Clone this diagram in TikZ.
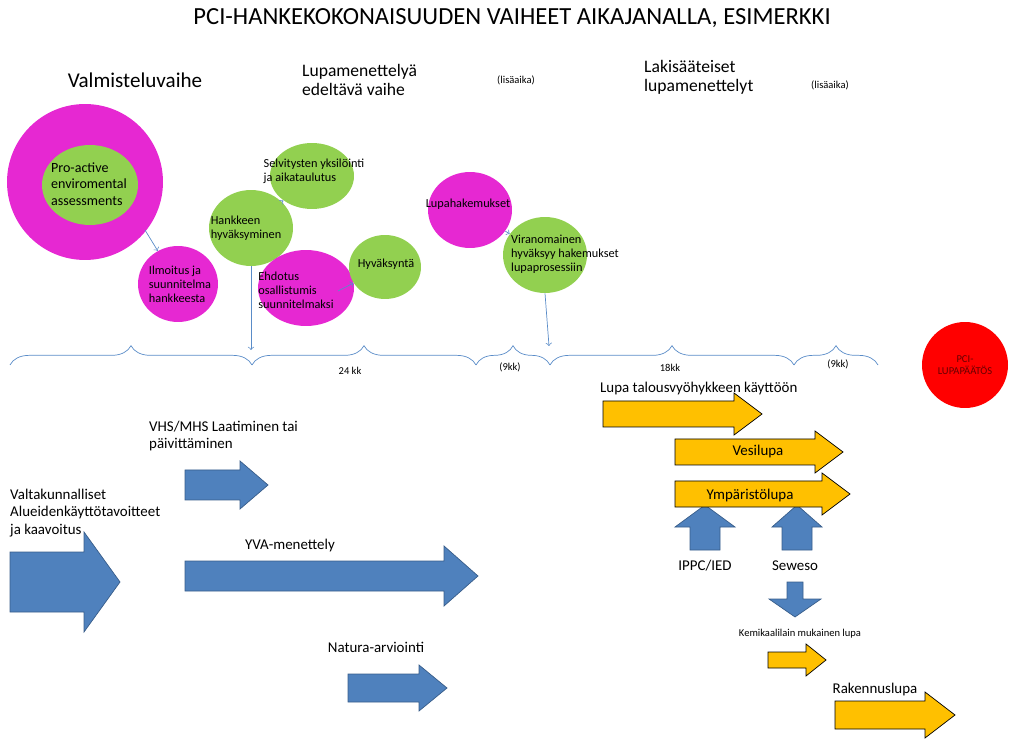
\documentclass[tikz,border=0pt]{standalone}
\usepackage{fontspec}
\setmainfont{Carlito}
\usetikzlibrary{positioning, decorations.pathreplacing, shapes.geometric}
\definecolor{pcimag}{RGB}{230,40,210}
\definecolor{pcigreen}{RGB}{146,208,80}
\definecolor{pciblue}{RGB}{79,129,189}
\definecolor{pciblueline}{RGB}{56,93,138}
\definecolor{pciyellow}{RGB}{255,192,0}
\definecolor{pciline}{RGB}{90,140,200}
% horizontal block arrow: x1, x2, y, body half, head half, head length, style
\newcommand{\fatarrow}[7]{\draw[#7] (#1,#3-#4) -- (#2-#6,#3-#4) -- (#2-#6,#3-#5) -- (#2,#3) -- (#2-#6,#3+#5) -- (#2-#6,#3+#4) -- (#1,#3+#4) -- cycle;}
% vertical block arrow: x, y1, y2, body half, head half, head length (negative up), style
\newcommand{\vfatarrow}[7]{\draw[#7] (#1-#4,#2) -- (#1-#4,#3-#6) -- (#1-#5,#3-#6) -- (#1,#3) -- (#1+#5,#3-#6) -- (#1+#4,#3-#6) -- (#1+#4,#2) -- cycle;}
\begin{document}
\begin{tikzpicture}[x=0.02cm, y=-0.02cm,
  bubble/.style={ellipse, inner sep=0pt},
  btext/.style={align=left, font=\fontsize{7}{8}\selectfont},
  mag/.style={fill=pcimag},
  grn/.style={fill=pcigreen},
  flow/.style={->, pciline, thin},
  timebrace/.style={decorate, decoration={brace, amplitude=11pt}, pciline},
  blue/.style={fill=pciblue, draw=pciblueline},
  yell/.style={fill=pciyellow},
  lbl/.style={font=\fontsize{8.5}{10}\selectfont, align=left},
  small/.style={font=\fontsize{6}{7}\selectfont}]
\useasboundingbox (0,0) rectangle (1024,739);

% headings
\node (title) at (512,18) {\fontsize{14}{16}\selectfont PCI-HANKEKOKONAISUUDEN VAIHEET AIKAJANALLA, ESIMERKKI};
\node (valm) at (135,80) {\fontsize{12}{14}\selectfont Valmisteluvaihe};
\node (lupaed) [anchor=west, align=left, font=\fontsize{10}{11}\selectfont] at (296,80) {Lupamenettelyä\\edeltävä vaihe};
\node (lisa1) [small] at (516,80) {(lisäaika)};
\node (laki) [anchor=west, align=left, font=\fontsize{10}{11}\selectfont] at (638,77) {Lakisääteiset\\lupamenettelyt};
\node (lisa2) [small] at (830,85) {(lisäaika)};

% bubbles
\node (proring) [circle, mag, minimum size=3.12cm] at (85,182) {};
\node (pro) [bubble, grn, minimum width=1.92cm, minimum height=1.6cm] at (90,185) {};
\node (ilm) [bubble, mag, minimum width=1.6cm, minimum height=1.52cm] at (178,284) {};
\node (hyv) [bubble, grn, minimum width=1.68cm, minimum height=1.52cm] at (251,228) {};
\node (selv) [bubble, grn, minimum width=1.68cm, minimum height=1.32cm] at (312,176) {};
\node (ehd) [bubble, mag, minimum width=1.92cm, minimum height=1.52cm] at (306,288) {};
\node (hyvs) [bubble, grn, minimum width=1.44cm, minimum height=1.28cm] at (385,267) {};
\node (lupah) [bubble, mag, minimum width=1.68cm, minimum height=1.52cm] at (470,210) {};
\node (vir) [bubble, grn, minimum width=1.68cm, minimum height=1.52cm] at (545,255) {};

\node (protxt) [btext, font=\fontsize{8}{9.5}\selectfont] at (89,184) {Pro-active\\enviromental\\assessments};
\node (ilmtxt) [btext] at (180,284) {Ilmoitus ja\\suunnitelma\\hankkeesta};
\node (hyvtxt) [btext] at (246,228) {Hankkeen\\hyväksyminen};
\node (selvtxt) [btext] at (314,171) {Selvitysten yksilöinti\\ja aikataulutus};
\node (ehdtxt) [btext] at (296,290) {Ehdotus\\osallistumis\\suunnitelmaksi};
\node (hyvstxt) [btext] at (386,264) {Hyväksyntä};
\node (lupahtxt) [btext] at (468,204) {Lupahakemukset};
\node (virtxt) [btext] at (565,254) {Viranomainen\\hyväksyy hakemukset\\lupaprosessiin};

% timeline
\coordinate (t0) at (10,365);
\coordinate (t1) at (252,365);
\coordinate (t2) at (476,365);
\coordinate (t3) at (550,365);
\coordinate (t4) at (794,365);
\coordinate (t5) at (878,365);
\draw[timebrace] (t0) -- (t1);
\draw[timebrace] (t1) -- (t2);
\draw[timebrace] (t2) -- (t3);
\draw[timebrace] (t3) -- (t4);
\draw[timebrace] (t4) -- (t5);
\node (kk24) [small] at (350,371) {24 kk};
\node (kk9a) [small] at (510,367) {(9kk)};
\node (kk18) [small] at (670,368) {18kk};
\node (kk9b) [small] at (838,364) {(9kk)};

% connectors
\coordinate (ringout) at (145,230);
\coordinate (ehdout) at (338,291);
\draw[flow] (ringout) -- (ilm);
\draw[flow] (hyv) -- (selv);
\draw[flow] (ehdout) -- (hyvs);
\draw[flow] (lupah) -- (vir);
\coordinate (hyvdown) at (251,350);
\coordinate (virdown) at (549,346);
\draw[flow] (hyv.south) -- (hyvdown);
\draw[flow] (vir.south) -- (virdown);

\node (pcidec) [circle, fill=red, minimum size=1.72cm, align=center, font=\fontsize{6}{7}\selectfont, text=red!40!black] at (965,365) {PCI-\\LUPAPÄÄTÖS};

% blue arrows
\fatarrow{10}{120}{582}{30}{50}{36}{blue}
\fatarrow{185}{268}{485}{15}{24}{28}{blue}
\fatarrow{185}{478}{576}{15}{30}{34}{blue}
\fatarrow{348}{447}{688}{14}{23}{28}{blue}
\vfatarrow{705}{550}{505}{15}{30}{-22}{blue}
\vfatarrow{797}{550}{505}{15}{25}{-22}{blue}
\vfatarrow{795}{582}{617}{8}{26}{18}{blue}

% yellow arrows
\fatarrow{603}{762}{414}{13}{21}{28}{yell}
\fatarrow{675}{843}{452}{13}{21}{28}{yell}
\fatarrow{675}{850}{494}{13}{21}{28}{yell}
\fatarrow{768}{826}{660}{8}{16}{20}{yell}
\fatarrow{835}{955}{715}{14}{23}{30}{yell}

% labels
\node (vhs) [lbl, anchor=west] at (143,436) {VHS/MHS Laatiminen tai\\päivittäminen};
\node (valt) [lbl, anchor=west] at (4,513) {Valtakunnalliset\\Alueidenkäyttötavoitteet\\ja kaavoitus};
\node (yva) [lbl] at (290,546) {YVA-menettely};
\node (natura) [lbl] at (376,647) {Natura-arviointi};
\node (talous) [lbl, anchor=west] at (594,389) {Lupa talousvyöhykkeen käyttöön};
\node (vesi) [lbl] at (758,452) {Vesilupa};
\node (ymp) [lbl] at (750,496) {Ympäristölupa};
\node (ippc) [lbl] at (705,566) {IPPC/IED};
\node (sew) [lbl] at (795,566) {Seweso};
\node (kemi) [small] at (800,634) {Kemikaalilain mukainen lupa};
\node (rak) [lbl] at (875,690) {Rakennuslupa};
\end{tikzpicture}
\end{document}
